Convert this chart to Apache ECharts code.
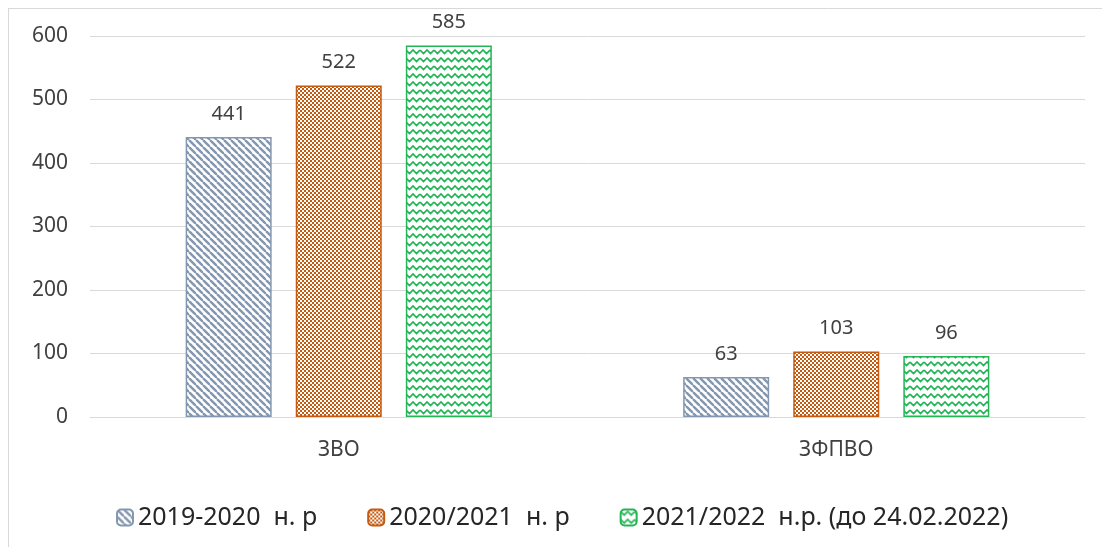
<!DOCTYPE html>
<html><head><meta charset="utf-8">
<script src="https://cdn.jsdelivr.net/npm/echarts@6/dist/echarts.min.js"></script>
<style>html,body{margin:0;padding:0;background:#fff}#c{width:1102px;height:547px}</style>
</head><body><div id="c"></div>
<script>
const categories = ['ЗВО', 'ЗФПВО'];
const seriesNames = ['2019-2020  н. р', '2020/2021  н. р', '2021/2022  н.р. (до 24.02.2022)'];
const values2019 = [441, 63];
const values2020 = [522, 103];
const values2021 = [585, 96];
const yTicks = [0, 100, 200, 300, 400, 500, 600];

function tile(w, h, draw) {
  const c = document.createElement('canvas');
  c.width = w; c.height = h;
  const g = c.getContext('2d');
  draw(g);
  return c;
}
const blue = '#8497B0', orange = '#C55A11', green = '#22B455';
const patBlue = tile(7, 7, g => {
  g.fillStyle = '#fff'; g.fillRect(0, 0, 7, 7);
  g.strokeStyle = blue; g.lineWidth = 2.4;
  for (let k = -14; k <= 14; k += 7) {
    g.beginPath(); g.moveTo(k, 0); g.lineTo(k + 7, 7); g.stroke();
  }
});
const patOrange = tile(4, 4, g => {
  g.fillStyle = orange; g.fillRect(0, 0, 4, 4);
  g.fillStyle = '#fff'; g.fillRect(0, 0, 2, 2); g.fillRect(2, 2, 2, 2);
});
const patGreen = tile(14, 8, g => {
  g.fillStyle = '#fff'; g.fillRect(0, 0, 14, 8);
  g.strokeStyle = green; g.lineWidth = 1.7;
  g.beginPath(); g.moveTo(0, 2); g.lineTo(3.5, 5.5); g.lineTo(7, 2); g.lineTo(10.5, 5.5); g.lineTo(14, 2); g.stroke();
});

const FONT = 'Noto Sans';
function mk(name, data, pat, col) {
  return {
    name, type: 'bar', data, barWidth: 86, barGap: '28%',
    itemStyle: { color: { image: pat, repeat: 'repeat' }, borderColor: col, borderWidth: 1.5 },
    label: { show: true, position: 'top', distance: 13, color: '#404040', fontSize: 20, fontFamily: FONT }
  };
}
const chart = echarts.init(document.getElementById('c'));
chart.setOption({
  animation: false,
  backgroundColor: '#fff',
  grid: { left: 90, right: 17, top: 36, bottom: 130 },
  graphic: [
    { type: 'line', shape: { x1: 8, y1: 8.5, x2: 1102, y2: 8.5 }, style: { stroke: '#d9d9d9', lineWidth: 1 } },
    { type: 'line', shape: { x1: 8.5, y1: 8, x2: 8.5, y2: 547 }, style: { stroke: '#d9d9d9', lineWidth: 1 } }
  ],
  legend: {
    top: 500, left: 111, itemWidth: 16, itemHeight: 16, itemGap: 50,
    textStyle: { fontSize: 25, color: '#262626', fontFamily: FONT, padding: [0, 0, 0, 0] },
    data: seriesNames
  },
  xAxis: {
    type: 'category', data: categories,
    axisLine: { lineStyle: { color: '#d9d9d9' } }, axisTick: { show: false },
    axisLabel: { color: '#404040', fontSize: 21, fontFamily: FONT, margin: 23 }
  },
  yAxis: {
    type: 'value', min: yTicks[0], max: yTicks[yTicks.length - 1], interval: 100,
    axisLine: { show: false }, axisTick: { show: false },
    splitLine: { lineStyle: { color: '#d9d9d9' } },
    axisLabel: { color: '#404040', fontSize: 21, fontFamily: FONT, margin: 22 }
  },
  series: [
    mk(seriesNames[0], values2019, patBlue, blue),
    mk(seriesNames[1], values2020, patOrange, orange),
    mk(seriesNames[2], values2021, patGreen, green)
  ]
});
</script></body></html>
